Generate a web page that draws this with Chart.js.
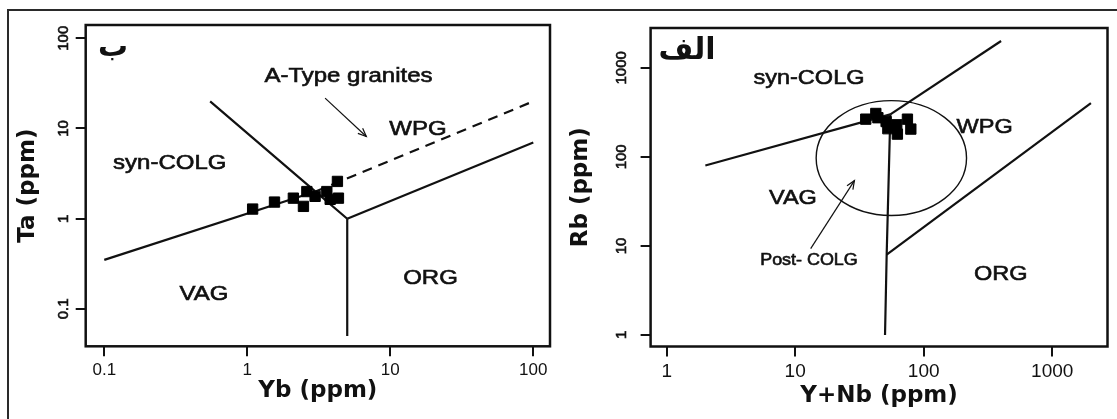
<!DOCTYPE html>
<html>
<head>
<meta charset="utf-8">
<script src="https://cdn.jsdelivr.net/npm/chart.js@4.4.1/dist/chart.umd.min.js"></script>
<style>
  html, body { margin: 0; padding: 0; background: #fff; }
  #wrap { position: relative; width: 1117px; height: 419px; overflow: hidden; background: #fff; }
  #frame { position: absolute; left: 7px; top: 9px; width: 1130px; height: 430px;
           border-left: 2px solid #2a2a2a; border-top: 2px solid #2a2a2a; }
  canvas { position: absolute; left: 0; top: 0; }
</style>
</head>
<body>
<div id="wrap">
  <div id="frame"></div>
  <canvas id="taYb" width="1117" height="419"></canvas>
  <canvas id="rbYnb" width="1117" height="419"></canvas>
</div>
<script>
// left panel (Ta vs Yb) - samples
var ybSamples = [1.09, 1.55, 2.1, 2.61, 2.47, 2.98, 3.6, 3.8, 4.27, 4.34]
var taSamples = [1.28, 1.53, 1.69, 2.0, 1.37, 1.77, 2.0, 1.64, 2.59, 1.69]
var ybTicks = [0.1, 1, 10, 100]
var taTicks = [0.1, 1, 10, 100]
// left panel boundaries, [x, y] pairs
var taVagSyn = [[0.1, 0.35], [3, 2]]
var taSynWpg = [[0.55, 20], [3, 2], [5, 1]]
var taWpgOrg = [[5, 1], [100, 7]]
var taVagOrg = [[5, 1], [5, 0.05]]
var taWpgDash = [[3, 2], [100, 20]]
var taArrow = [[3.5, 21.7], [6.8, 8.15]]
var taLabels = ['A-Type granites', 'WPG', 'syn-COLG', 'VAG', 'ORG']
var taLabelX = [5.1, 15.6, 0.287, 0.497, 19.1]
var taLabelY = [37.7, 9.7, 4.13, 0.144, 0.22]

// right panel (Rb vs Y+Nb) - samples
var ynbSamples = [35.4, 42.4, 44, 51, 52.6, 61.7, 62.4, 74.7, 79.4]
var rbSamples = [265, 307, 275, 249, 207, 229, 180, 265, 205]
var ynbTicks = [1, 10, 100, 1000]
var rbTicks = [1, 10, 100, 1000]
var rbVagSyn = [[2, 80], [55, 300]]
var rbSynWpg = [[55, 300], [400, 2000]]
var rbVagWpg = [[55, 300], [51.5, 8], [50, 1]]
var rbWpgOrg = [[51.5, 8], [2000, 400]]
var rbArrow = [[13.2, 9.3], [28.9, 54]]
var postColgCenter = [56, 97]       // ellipse centre (data units)
var postColgRadius = [0.585, 0.645] // half axes in decades (x, y)
var rbLabels = ['syn-COLG', 'WPG', 'VAG', 'Post- COLG', 'ORG']
var rbLabelX = [12.8, 298, 9.6, 12.8, 398]
var rbLabelY = [760, 217, 34.6, 6.9, 4.8]

const FONT = "'Liberation Sans', Arial, sans-serif"
const TITLE_FONT = "'DejaVu Sans', 'Liberation Sans', sans-serif"

function pts (pairs) {
  return pairs.map(p => ({ x: p[0], y: p[1] }))
}

function lineSet (pairs, opt) {
  return Object.assign({
    data: pts(pairs),
    showLine: true,
    pointRadius: 0,
    borderColor: '#111',
    borderWidth: 2.2,
    fill: false
  }, opt || {})
}

// text, box, ellipse, arrow heads and rotated y tick labels
const panelPlugin = {
  id: 'panel',
  afterDatasetsDraw (chart, args, o) {
    const ctx = chart.ctx
    const xs = chart.scales.x
    const ys = chart.scales.y
    const a = chart.chartArea
    ctx.save()
    ctx.strokeStyle = '#111'
    ctx.lineWidth = 2.5
    ctx.strokeRect(a.left, a.top, a.right - a.left, a.bottom - a.top)

    if (o.ellipse) {
      const cx = xs.getPixelForValue(o.ellipse.c[0])
      const cy = ys.getPixelForValue(o.ellipse.c[1])
      const rx = xs.getPixelForValue(o.ellipse.c[0] * Math.pow(10, o.ellipse.r[0])) - cx
      const ry = cy - ys.getPixelForValue(o.ellipse.c[1] * Math.pow(10, o.ellipse.r[1]))
      ctx.lineWidth = 1.4
      ctx.beginPath()
      ctx.ellipse(cx, cy, rx, ry, 0, 0, Math.PI * 2)
      ctx.stroke()
    }

    // arrow head on the arrow dataset
    const meta = chart.getDatasetMeta(o.arrowIndex)
    const p0 = meta.data[0]
    const p1 = meta.data[meta.data.length - 1]
    const ang = Math.atan2(p1.y - p0.y, p1.x - p0.x)
    ctx.lineWidth = 1.2
    ctx.beginPath()
    ctx.moveTo(p1.x - 9 * Math.cos(ang - 0.4), p1.y - 9 * Math.sin(ang - 0.4))
    ctx.lineTo(p1.x, p1.y)
    ctx.lineTo(p1.x - 9 * Math.cos(ang + 0.4), p1.y - 9 * Math.sin(ang + 0.4))
    ctx.stroke()

    ctx.fillStyle = '#111'
    ctx.textAlign = 'center'
    ctx.textBaseline = 'middle'
    ctx.lineWidth = 0.6
    o.labels.forEach((t, i) => {
      ctx.font = (t.indexOf('Post') === 0 ? '16px ' : o.labelSize + 'px ') + FONT
      ctx.save()
      ctx.translate(xs.getPixelForValue(o.labelX[i]), ys.getPixelForValue(o.labelY[i]))
      ctx.scale(o.stretch, 1) // the scan's lettering is wide
      ctx.fillText(t, 0, 0)
      ctx.strokeText(t, 0, 0) // a bit heavier, like the scan
      ctx.restore()
    })

    ctx.font = "bold 30px 'DejaVu Sans', sans-serif"
    ctx.fillText(o.tag, xs.getPixelForValue(o.tagAt[0]), ys.getPixelForValue(o.tagAt[1]))

    // y tick labels, written sideways like the original
    ctx.font = '15px ' + FONT
    ys.ticks.forEach(t => {
      ctx.save()
      ctx.translate(o.yLabelX, ys.getPixelForValue(t.value))
      ctx.rotate(-Math.PI / 2)
      ctx.fillText(String(t.value), 0, 0)
      ctx.strokeText(String(t.value), 0, 0)
      ctx.restore()
    })
    ctx.restore()
  }
}

function logAxis (min, max, tickVals, title, size, showLabels, tickSize) {
  return {
    type: 'logarithmic',
    min: min,
    max: max,
    bounds: 'data',
    afterBuildTicks: s => { s.ticks = tickVals.map(v => ({ value: v })) },
    afterFit: s => { if (s.isHorizontal()) s.height = size; else s.width = size },
    grid: { drawOnChartArea: false, drawTicks: true, tickLength: 10, color: '#111', lineWidth: 2 },
    border: { display: false },
    ticks: {
      display: showLabels,
      padding: 4,
      color: '#111',
      font: { family: FONT, size: tickSize },
      callback: v => String(v),
      maxRotation: 0,
      autoSkip: false
    },
    title: {
      display: true,
      text: title,
      color: '#111',
      padding: 0,
      font: { family: TITLE_FONT, size: 23, weight: 'bold' }
    }
  }
}

function makePanel (id, cfg) {
  new Chart(document.getElementById(id), {
    type: 'scatter',
    data: { datasets: cfg.datasets },
    options: {
      responsive: false,
      animation: false,
      events: [],
      layout: { padding: cfg.padding },
      scales: {
        x: logAxis(cfg.xMin, cfg.xMax, cfg.xTicks, cfg.xTitle, cfg.xSize, true, cfg.tickSize),
        y: logAxis(cfg.yMin, cfg.yMax, cfg.yTicks, cfg.yTitle, cfg.ySize, false, cfg.tickSize)
      },
      plugins: {
        legend: { display: false },
        tooltip: { enabled: false },
        panel: cfg.panel
      }
    },
    plugins: [panelPlugin]
  })
}

const sampleStyle = {
  showLine: false,
  pointStyle: 'rect',
  pointRadius: 7.3,
  backgroundColor: '#000',
  borderColor: '#000',
  borderWidth: 1
}

makePanel('taYb', {
  padding: { left: 14, top: 25, right: 567, bottom: 14 },
  xMin: Math.pow(10, -1.13), xMax: Math.pow(10, 2.117),
  yMin: Math.pow(10, -1.414), yMax: Math.pow(10, 2.147),
  xTicks: ybTicks, yTicks: taTicks,
  xTitle: 'Yb (ppm)', yTitle: 'Ta (ppm)',
  xSize: 58.7, ySize: 71.7, tickSize: 17,
  datasets: [
    Object.assign({ data: ybSamples.map((x, i) => ({ x: x, y: taSamples[i] })) }, sampleStyle),
    lineSet(taVagSyn),
    lineSet(taSynWpg),
    lineSet(taWpgOrg),
    lineSet(taVagOrg),
    lineSet(taWpgDash, { borderDash: [10, 7] }),
    lineSet(taArrow, { borderWidth: 1.2 })
  ],
  panel: {
    arrowIndex: 6,
    labels: taLabels, labelX: taLabelX, labelY: taLabelY, labelSize: 20, stretch: 1.2,
    tag: 'ب', tagAt: [0.115, 77],
    yLabelX: 64
  }
})

makePanel('rbYnb', {
  padding: { left: 567.6, top: 28, right: 9.5, bottom: 9 },
  xMin: Math.pow(10, -0.125), xMax: Math.pow(10, 3.43),
  yMin: Math.pow(10, -0.13), yMax: Math.pow(10, 3.447),
  xTicks: ynbTicks, yTicks: rbTicks,
  xTitle: 'Y+Nb (ppm)', yTitle: 'Rb (ppm)',
  xSize: 63.5, ySize: 83, tickSize: 19,
  datasets: [
    Object.assign({ data: ynbSamples.map((x, i) => ({ x: x, y: rbSamples[i] })) }, sampleStyle),
    lineSet(rbVagSyn),
    lineSet(rbSynWpg),
    lineSet(rbVagWpg),
    lineSet(rbWpgOrg),
    lineSet(rbArrow, { borderWidth: 1.2 })
  ],
  panel: {
    arrowIndex: 5,
    labels: rbLabels, labelX: rbLabelX, labelY: rbLabelY, labelSize: 21, stretch: 1.12,
    ellipse: { c: postColgCenter, r: postColgRadius },
    tag: 'الف', tagAt: [1.44, 1540],
    yLabelX: 622
  }
})
</script>
</body>
</html>
